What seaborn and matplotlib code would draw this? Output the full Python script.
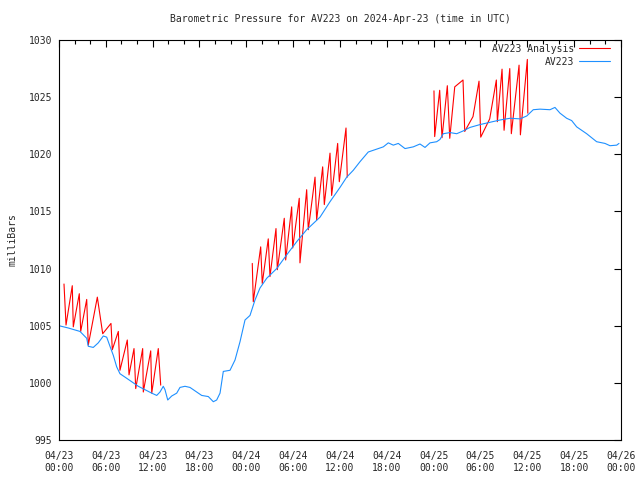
import numpy as np
import pandas as pd
import matplotlib
matplotlib.use("Agg")
import matplotlib.pyplot as plt
import matplotlib.dates as mdates
from matplotlib.lines import Line2D
import seaborn as sns

# hours after 2024-04-23 00:00 UTC, pressure in mb
obs_hours = [0.0, 1.19, 2.69, 3.55, 3.75, 4.39, 5.03, 5.68, 6.11, 6.53, 6.96, 7.39, 7.81,
             8.46, 9.31, 10.16, 11.02, 11.88, 12.52, 12.94, 13.36, 13.58, 13.93, 14.44,
             15.08, 15.50, 16.14, 16.78, 17.21, 17.85, 18.28, 19.13, 19.77, 20.20, 20.63,
             21.05, 21.91, 22.55, 23.19, 23.83, 24.47, 25.11, 25.75, 26.61, 27.89, 29.17,
             30.45, 31.73, 33.44, 34.72, 36.00, 36.86, 37.70, 38.56, 39.62, 40.48, 41.55,
             42.19, 42.83, 43.47, 44.33, 45.39, 46.25, 46.89, 47.53, 48.39, 48.81, 49.23,
             50.09, 50.95, 51.80, 52.65, 53.94, 55.22, 56.50, 57.78, 59.06, 59.92, 60.76,
             61.62, 62.90, 63.54, 64.18, 65.04, 65.68, 66.32, 67.60, 68.88, 69.95, 70.59,
             71.45, 71.74]
obs_mb = [1005.0, 1004.8, 1004.5, 1003.9, 1003.2, 1003.1, 1003.5, 1004.1, 1004.0, 1003.2,
          1002.4, 1001.4, 1000.8, 1000.5, 1000.1, 999.7, 999.4, 999.1, 998.9, 999.2, 999.7,
          999.4, 998.5, 998.85, 999.1, 999.6, 999.7, 999.6, 999.4, 999.1, 998.9, 998.8,
          998.35, 998.5, 999.1, 1001.0, 1001.1, 1002.0, 1003.6, 1005.5, 1005.9, 1007.25,
          1008.3, 1009.15, 1010.0, 1011.2, 1012.35, 1013.4, 1014.5, 1015.85, 1017.1, 1018.0,
          1018.6, 1019.35, 1020.2, 1020.4, 1020.65, 1021.0, 1020.8, 1020.95, 1020.5, 1020.65,
          1020.9, 1020.6, 1021.0, 1021.1, 1021.3, 1021.8, 1021.9, 1021.8, 1022.05, 1022.35,
          1022.6, 1022.8, 1023.0, 1023.15, 1023.1, 1023.35, 1023.9, 1023.95, 1023.9, 1024.1,
          1023.6, 1023.15, 1022.95, 1022.4, 1021.8, 1021.1, 1020.95, 1020.75, 1020.8, 1020.95]

# analysis runs, three separate pieces
ana1_hours = [0.64, 0.90, 1.70, 1.83, 2.60, 2.78, 3.55, 3.75, 4.91, 5.60, 6.66, 6.83, 7.60,
              7.81, 8.75, 8.97, 9.61, 9.83, 10.72, 10.80, 11.75, 11.88, 12.72, 13.03]
ana1_mb = [1008.65, 1005.06, 1008.5, 1004.9, 1007.8, 1004.5, 1007.3, 1003.3, 1007.5, 1004.3,
           1005.2, 1002.9, 1004.5, 1001.1, 1003.75, 1000.7, 1003.0, 999.5, 1003.0, 999.2,
           1002.8, 999.1, 1003.0, 999.8]
ana2_hours = [24.76, 24.89, 25.84, 26.04, 26.81, 27.03, 27.80, 27.97, 28.86, 29.04, 29.81,
              29.94, 30.78, 30.87, 31.73, 31.94, 32.80, 33.01, 33.78, 33.99, 34.72, 34.93,
              35.70, 35.91, 36.77, 36.93]
ana2_mb = [1010.45, 1007.1, 1011.9, 1008.7, 1012.6, 1009.3, 1013.5, 1009.9, 1014.4, 1010.75,
           1015.4, 1011.8, 1016.15, 1010.5, 1016.9, 1013.4, 1018.0, 1014.25, 1018.9, 1015.6,
           1020.1, 1016.4, 1020.95, 1017.6, 1022.3, 1018.0]
ana3_hours = [48.04, 48.13, 48.77, 49.07, 49.75, 50.06, 50.70, 51.76, 51.98, 53.04, 53.81,
              54.03, 55.18, 56.03, 56.16, 56.76, 57.02, 57.75, 57.95, 58.94, 59.11, 60.00,
              60.06]
ana3_mb = [1025.55, 1021.55, 1025.6, 1021.45, 1026.0, 1021.4, 1025.9, 1026.5, 1022.0, 1023.3,
           1026.4, 1021.5, 1023.1, 1026.5, 1022.85, 1027.45, 1022.1, 1027.5, 1021.8, 1027.8,
           1021.7, 1028.3, 1023.6]

start = pd.Timestamp("2024-04-23 00:00")

obs = pd.DataFrame({"time": start + pd.to_timedelta(obs_hours, unit="h"), "mb": obs_mb})
ana = pd.concat([
    pd.DataFrame({"time": start + pd.to_timedelta(h, unit="h"), "mb": v, "run": i})
    for i, (h, v) in enumerate([(ana1_hours, ana1_mb), (ana2_hours, ana2_mb), (ana3_hours, ana3_mb)])
], ignore_index=True)

red = "#ff0000"
blue = "#1e90ff"

sns.set_style("white")
plt.rcParams['font.family'] = ['DejaVu Sans Mono']
plt.rcParams['font.size'] = 7

fig = plt.figure(figsize=(6.4, 4.8), dpi=100)
ax = fig.add_axes([59 / 640, 40 / 480, 562 / 640, 400 / 480])

sns.lineplot(data=ana, x="time", y="mb", units="run", estimator=None, color=red,
             linewidth=0.8, ax=ax, legend=False)
sns.lineplot(data=obs, x="time", y="mb", estimator=None, color=blue,
             linewidth=0.8, ax=ax, legend=False)

ax.set_xlim(start, start + pd.Timedelta(hours=72))
ax.set_ylim(995, 1030)
ax.set_yticks(np.arange(995, 1031, 5))
ax.xaxis.set_major_locator(mdates.HourLocator(byhour=[0, 6, 12, 18]))
ax.xaxis.set_minor_locator(mdates.HourLocator(byhour=range(0, 24, 2)))
ax.xaxis.set_major_formatter(mdates.DateFormatter("%m/%d\n%H:%M"))

ax.tick_params(which="both", direction="in", top=True, right=True, color="black")
ax.tick_params(which="major", length=5, width=0.8, pad=8)
ax.tick_params(which="minor", length=3, width=0.8)
ax.tick_params(axis="y", pad=5)
for s in ax.spines.values():
    s.set_color("black")
    s.set_linewidth(0.8)

ax.set_xlabel("")
ax.set_ylabel("milliBars", fontsize=7, labelpad=8)
ax.set_title("Barometric Pressure for AV223 on 2024-Apr-23 (time in UTC)", fontsize=7, pad=13)

handles = [Line2D([], [], color=red, linewidth=0.8), Line2D([], [], color=blue, linewidth=0.8)]
ax.legend(handles, ["AV223 Analysis", "AV223"], loc="upper right",
          bbox_to_anchor=(0.9875, 1.0), frameon=False, markerfirst=False,
          handlelength=3.2, borderaxespad=0, labelspacing=0.3, handletextpad=0.5,
          fontsize=7)

fig.savefig("out.png", dpi=100)
